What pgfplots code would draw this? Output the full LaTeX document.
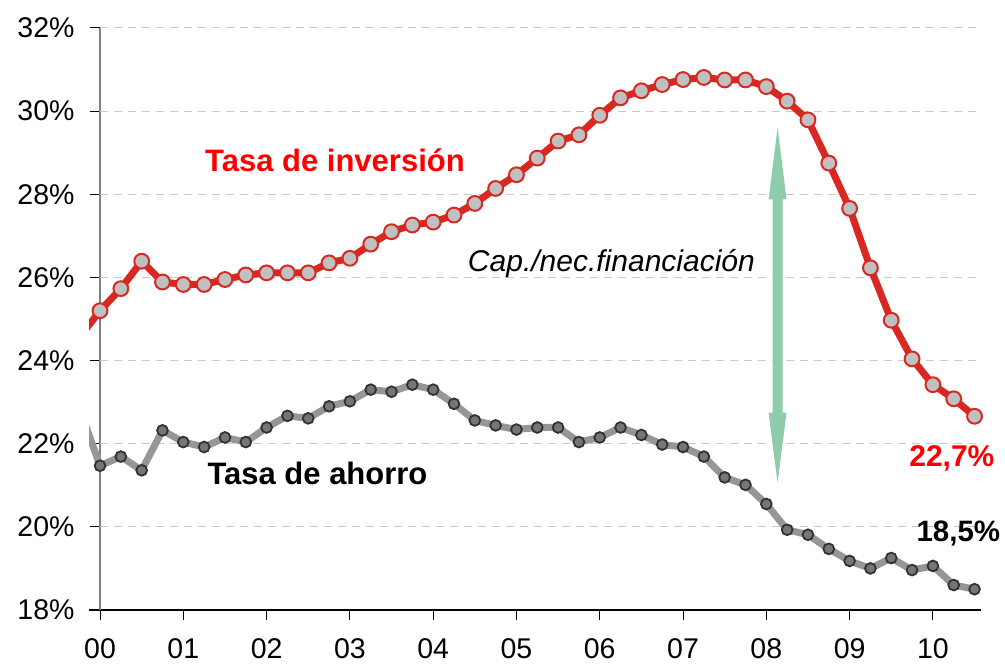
\documentclass[border=0pt]{standalone}
\usepackage{pgfplots}
\pgfplotsset{compat=1.18}
\usepackage{fontspec}
\setmainfont{Liberation Sans}
\definecolor{redline}{RGB}{216,40,34}
\definecolor{grayline}{RGB}{150,150,150}
\definecolor{marklight}{RGB}{192,192,192}
\definecolor{markdark}{RGB}{118,118,118}
\definecolor{markedge}{RGB}{50,50,50}
\definecolor{arrowgreen}{RGB}{143,204,172}
\definecolor{textred}{RGB}{255,0,0}
\definecolor{gridgray}{RGB}{200,200,200}
\begin{document}
\begin{tikzpicture}
\path[use as bounding box] (-89.2bp,-58bp) rectangle (915.8bp,610bp);
\begin{axis}[
  width=892bp, height=582bp, scale only axis,
  xmin=-0.13, xmax=10.58, ymin=18, ymax=32,
  axis x line=bottom, axis y line=middle,
  x axis line style={-, black, line width=1.2bp},
  y axis line style={-, gray, line width=1.5bp},
  hide obscured x ticks=false, hide obscured y ticks=false,
  xtick={0,1,...,10},
  xticklabels={00,01,02,03,04,05,06,07,08,09,10},
  ytick={18,20,...,32},
  yticklabels={18\%,20\%,22\%,24\%,26\%,28\%,30\%,32\%},
  tick align=outside, major tick length=10bp,
  tick style={black, line width=1bp},
  ticklabel style={font=\fontsize{28.5bp}{34bp}\selectfont},
  yticklabel style={anchor=east, xshift=-12bp},
  xticklabel style={anchor=north, yshift=-15bp},
  clip=true,
]
\pgfplotsinvokeforeach{20,22,...,32}{
  \draw[gridgray, line width=1bp, dash pattern=on 8bp off 6bp] (axis cs:0,#1) -- (axis cs:10.58,#1);
}
\addplot[color=grayline, line width=7bp, mark=*, mark size=5.4bp,
  mark options={fill=markdark, draw=markedge, line width=1.8bp}] coordinates {
(-0.25,22.87) (0,21.47) (0.25,21.69) (0.5,21.36) (0.75,22.32) (1,22.04) (1.25,21.92)
(1.5,22.15) (1.75,22.04) (2,22.39) (2.25,22.67) (2.5,22.61) (2.75,22.90) (3,23.02)
(3.25,23.30) (3.5,23.25) (3.75,23.42) (4,23.30) (4.25,22.96) (4.5,22.56) (4.75,22.44)
(5,22.34) (5.25,22.39) (5.5,22.39) (5.75,22.04) (6,22.15) (6.25,22.39) (6.5,22.21)
(6.75,21.98) (7,21.92) (7.25,21.69) (7.5,21.19) (7.75,21.01) (8,20.55) (8.25,19.93)
(8.5,19.81) (8.75,19.47) (9,19.18) (9.25,19.00) (9.5,19.25) (9.75,18.96) (10,19.06)
(10.25,18.60) (10.5,18.50)
};
\addplot[color=redline, line width=7bp, mark=*, mark size=7.4bp,
  mark options={fill=marklight, draw=redline, line width=2bp}] coordinates {
(-0.25,24.55) (0,25.20) (0.25,25.73) (0.5,26.39) (0.75,25.89) (1,25.83) (1.25,25.83)
(1.5,25.95) (1.75,26.06) (2,26.11) (2.25,26.11) (2.5,26.11) (2.75,26.35) (3,26.46)
(3.25,26.80) (3.5,27.10) (3.75,27.26) (4,27.33) (4.25,27.50) (4.5,27.78) (4.75,28.14)
(5,28.47) (5.25,28.87) (5.5,29.28) (5.75,29.43) (6,29.90) (6.25,30.32) (6.5,30.49)
(6.75,30.64) (7,30.76) (7.25,30.81) (7.5,30.75) (7.75,30.75) (8,30.59) (8.25,30.24)
(8.5,29.79) (8.75,28.75) (9,27.66) (9.25,26.23) (9.5,24.97) (9.75,24.04) (10,23.42)
(10.25,23.08) (10.5,22.66)
};
% double arrow
\fill[arrowgreen]
  (axis cs:8.135,29.61)
  -- ([xshift=9bp]axis cs:8.135,27.88) -- ([xshift=5bp]axis cs:8.135,27.88)
  -- ([xshift=5bp]axis cs:8.135,22.75) -- ([xshift=9bp]axis cs:8.135,22.75)
  -- (axis cs:8.135,21.06)
  -- ([xshift=-9bp]axis cs:8.135,22.75) -- ([xshift=-5bp]axis cs:8.135,22.75)
  -- ([xshift=-5bp]axis cs:8.135,27.88) -- ([xshift=-9bp]axis cs:8.135,27.88)
  -- cycle;
\end{axis}
\begin{axis}[
  width=892bp, height=582bp, scale only axis,
  xmin=-0.13, xmax=10.58, ymin=18, ymax=32,
  hide axis, clip=false,
]
\node[anchor=base, text=textred, font=\fontsize{31bp}{36bp}\selectfont\bfseries] at (axis cs:2.821,28.554) {Tasa de inversión};
\node[anchor=base, text=black, font=\fontsize{31bp}{36bp}\selectfont\bfseries] at (axis cs:2.611,21.012) {Tasa de ahorro};
\node[anchor=base, text=black, font=\fontsize{30bp}{36bp}\selectfont\itshape] at (axis cs:6.14,26.153) {Cap./nec.financiación};
\node[anchor=base, text=textred, font=\fontsize{30bp}{36bp}\selectfont\bfseries] at (axis cs:10.228,21.446) {22,7\%};
\node[anchor=base, text=black, font=\fontsize{29.5bp}{36bp}\selectfont\bfseries] at (axis cs:10.306,19.639) {18,5\%};
\end{axis}
\end{tikzpicture}
\end{document}
